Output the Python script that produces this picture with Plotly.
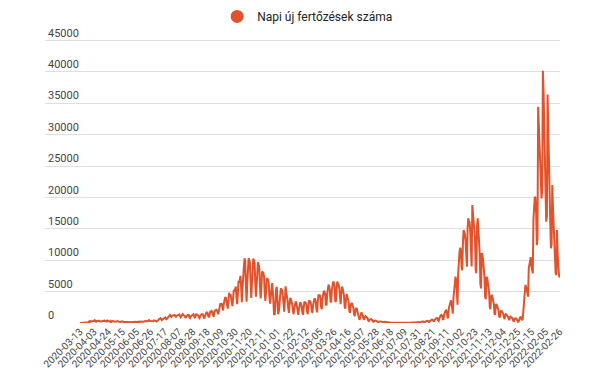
import pandas as pd
import plotly.graph_objects as go

series_name = "Napi új fertőzések száma"

# Daily values, one row per week (Fri..Thu), starting 2020-03-13
weeks = [
    [19, 32, 16, 45, 26, 62, 31],
    [31, 59, 66, 143, 186, 144, 123],
    [263, 160, 308, 263, 192, 250, 349],
    [315, 432, 343, 193, 326, 360, 290],
    [307, 357, 255, 302, 219, 267, 306],
    [341, 398, 372, 307, 300, 242, 396],
    [321, 229, 247, 190, 333, 190, 268],
    [327, 240, 234, 190, 201, 252, 257],
    [313, 222, 217, 190, 153, 230, 233],
    [274, 187, 228, 144, 159, 221, 175],
    [157, 201, 156, 130, 122, 175, 185],
    [177, 130, 137, 119, 144, 183, 148],
    [171, 167, 195, 160, 163, 239, 217],
    [216, 233, 155, 150, 185, 280, 320],
    [245, 300, 240, 270, 325, 460, 320],
    [321, 306, 288, 227, 298, 422, 430],
    [374, 326, 249, 280, 391, 555, 614],
    [698, 777, 596, 460, 578, 668, 698],
    [767, 889, 646, 593, 730, 991, 1030],
    [1112, 1284, 1120, 968, 1151, 1182, 1295],
    [1356, 1295, 1055, 1010, 1165, 1233, 1209],
    [1345, 1378, 1060, 899, 1068, 1222, 1415],
    [1267, 1241, 1112, 824, 1053, 1149, 1232],
    [1300, 1290, 900, 800, 1060, 1200, 1340],
    [1300, 1400, 1000, 770, 1100, 1450, 1300],
    [1300, 1200, 900, 790, 1090, 1300, 1400],
    [1400, 1380, 1000, 700, 1100, 1500, 1600],
    [1700, 1600, 1100, 900, 1250, 1800, 1750],
    [1900, 1750, 1300, 1000, 1600, 2100, 1900],
    [2100, 2000, 1600, 1400, 2000, 2900, 3100],
    [3000, 3100, 2500, 2000, 3000, 3900, 4000],
    [4100, 3500, 2800, 2300, 3600, 4800, 4400],
    [4600, 3900, 3300, 2700, 4000, 5300, 5000],
    [5400, 5800, 4000, 3000, 4500, 6700, 6400],
    [7000, 7500, 5600, 3300, 5500, 8600, 9000],
    [10300, 9800, 6200, 3400, 6100, 9500, 10300],
    [10100, 9600, 6400, 4000, 6300, 9800, 10250],
    [10000, 9500, 6200, 4200, 6000, 9200, 9700],
    [9300, 8700, 5800, 3900, 5500, 8200, 8100],
    [8000, 7400, 4800, 3500, 4900, 7150, 7000],
    [6900, 6350, 4200, 3100, 4100, 6000, 6350],
    [5200, 2300, 1300, 1400, 3800, 5400, 5780],
    [3500, 1400, 1800, 3200, 4800, 5530, 5300],
    [5200, 4300, 2600, 1800, 3400, 5840, 5000],
    [4460, 3600, 2400, 1600, 2800, 4000, 3800],
    [3500, 3000, 2000, 1400, 2300, 3300, 3400],
    [3300, 2800, 1800, 1300, 2200, 3200, 3300],
    [3100, 2700, 1700, 1300, 2400, 3400, 3300],
    [3200, 2900, 1900, 1400, 2600, 3600, 3500],
    [3400, 3000, 2000, 1600, 2800, 3900, 3900],
    [3800, 3400, 2200, 1700, 3300, 4500, 4400],
    [4400, 3900, 2500, 2200, 3900, 5000, 5100],
    [5000, 4600, 3000, 2800, 4600, 6000, 6100],
    [5800, 5200, 3400, 3300, 5300, 6500, 6600],
    [6400, 5800, 3500, 3400, 5500, 6580, 6300],
    [6100, 5500, 3400, 3000, 4700, 5800, 5500],
    [5000, 4400, 2600, 2300, 3700, 4600, 4200],
    [3900, 3300, 1900, 1600, 2700, 3200, 3100],
    [2800, 2400, 1400, 1100, 1900, 2400, 2300],
    [1900, 1500, 900, 500, 800, 1600, 1700],
    [1400, 1200, 700, 500, 900, 1100, 1000],
    [900, 800, 400, 300, 500, 700, 650],
    [550, 500, 250, 200, 350, 450, 400],
    [350, 300, 150, 100, 200, 280, 250],
    [230, 200, 100, 70, 130, 180, 160],
    [150, 120, 60, 40, 80, 100, 90],
    [80, 70, 35, 25, 50, 70, 60],
    [60, 50, 25, 15, 40, 55, 50],
    [50, 45, 20, 12, 35, 60, 55],
    [55, 50, 25, 15, 45, 70, 65],
    [70, 60, 30, 55, 90, 80],
    [100, 90, 40, 30, 80, 120, 130],
    [150, 140, 60, 50, 150, 200, 220],
    [240, 230, 110, 80, 210, 300, 320],
    [350, 340, 160, 130, 330, 450, 480],
    [530, 500, 250, 200, 500, 700, 730],
    [800, 750, 400, 320, 800, 1100, 1200],
    [1300, 1200, 600, 500, 1300, 1700, 1900],
    [2000, 1800, 900, 800, 2300, 2900, 3000],
    [3600, 3300, 1800, 1500, 4100, 5100, 5250],
    [7370, 6800, 3500, 2900, 8000, 10400, 11350],
    [12000, 11500, 9000, 8400, 12690, 14800, 14500],
    [14200, 13000, 9500, 8970, 15200, 16670, 16200],
    [16000, 14500, 9400, 9000, 18790, 17700, 16500],
    [15500, 13500, 8500, 7910, 15340, 16670, 15000],
    [13000, 11000, 6200, 5500, 11140, 10900, 10000],
    [9000, 7500, 4200, 3800, 7370, 7200, 6500],
    [5900, 4800, 2500, 2200, 4190, 4500, 4100],
    [3700, 3000, 1500, 1300, 2870, 3000, 2700],
    [2400, 2000, 1000, 900, 1800, 2000, 1800],
    [1700, 1400, 700, 600, 1270, 1400, 1250],
    [1200, 1000, 500, 450, 900, 1000, 900],
    [850, 700, 350, 300, 700, 800, 750],
    [600, 300, 200, 250, 700, 900, 950],
    [800, 450, 600, 1800, 3100, 4500, 6050],
    [5800, 5200, 4990, 4200, 8700, 9500, 10030],
    [10500, 9000, 8170, 7900, 16670, 19500, 20100],
    [19900, 17500, 12400, 13500, 34440, 31500, 30500],
    [27000, 24000, 19840, 21170, 40170, 37000, 33100],
    [27000, 21000, 16130, 17000, 36400, 29000, 25150],
    [21000, 16000, 11890, 12500, 21970, 18500, 15080],
    [13500, 10500, 7910, 7640, 14800, 11000, 8500],
    [7640, 7250],
]

start_date = "2020-03-13"
end_date = "2022-02-26"
missing_dates = ["2021-07-20"]

tick_labels = [
    "2020-03-13", "2020-04-03", "2020-04-24", "2020-05-15", "2020-06-05",
    "2020-06-26", "2020-07-17", "2020-08-07", "2020-08-28", "2020-09-18",
    "2020-10-09", "2020-10-30", "2020-11-20", "2020-12-11", "2021-01-01",
    "2021-01-22", "2021-02-12", "2021-03-05", "2021-03-26", "2021-04-16",
    "2021-05-07", "2021-05-28", "2021-06-18", "2021-07-09", "2021-07-31",
    "2021-08-21", "2021-09-11", "2021-10-02", "2021-10-23", "2021-11-13",
    "2021-12-04", "2021-12-25", "2022-01-15", "2022-02-05", "2022-02-26",
]

y_ticks = [0, 5000, 10000, 15000, 20000, 25000, 30000, 35000, 40000, 45000]

dates = [d.strftime("%Y-%m-%d") for d in pd.date_range(start_date, end_date)]
dates = [d for d in dates if d not in missing_dates]
values = [v for w in weeks for v in w]
n = min(len(dates), len(values))
dates, values = dates[:n], values[:n]

color = "#e1532c"

fig = go.Figure()
fig.add_trace(go.Scatter(
    x=dates, y=values, mode="lines",
    line=dict(color=color, width=2),
    showlegend=False, hoverinfo="x+y",
))
fig.add_trace(go.Scatter(
    x=[None], y=[None], mode="markers", name=series_name,
    marker=dict(color=color, size=13, symbol="circle"),
    showlegend=True,
))

fig.update_layout(
    width=595, height=385,
    margin=dict(l=45, r=35, t=26, b=62, autoexpand=False),
    paper_bgcolor="white", plot_bgcolor="white",
    font=dict(family="Roboto, Arial, sans-serif", color="#444"),
    legend=dict(
        orientation="h", x=0.51, xanchor="center",
        yref="container", y=0.995, yanchor="top",
        font=dict(size=12, color="#222"),
        itemsizing="trace",
    ),
    xaxis=dict(
        type="category",
        range=[-52, 714.5],
        tickmode="array", tickvals=tick_labels, ticktext=tick_labels,
        tickangle=-45, tickfont=dict(size=10, color="#444"),
        showgrid=False, showline=False, zeroline=False, ticks="",
    ),
    yaxis=dict(
        range=[0, 47300], tickvals=y_ticks, tickformat="d",
        ticklabelposition="inside top",
        tickfont=dict(size=11, color="#444"),
        showgrid=True, gridcolor="#dedede", gridwidth=1,
        zeroline=False, showline=False, ticks="",
    ),
)

fig.write_html(
    "out.html",
    config={"displayModeBar": False},
    post_script="document.body.style.margin='0';document.body.style.overflow='hidden';",
)
